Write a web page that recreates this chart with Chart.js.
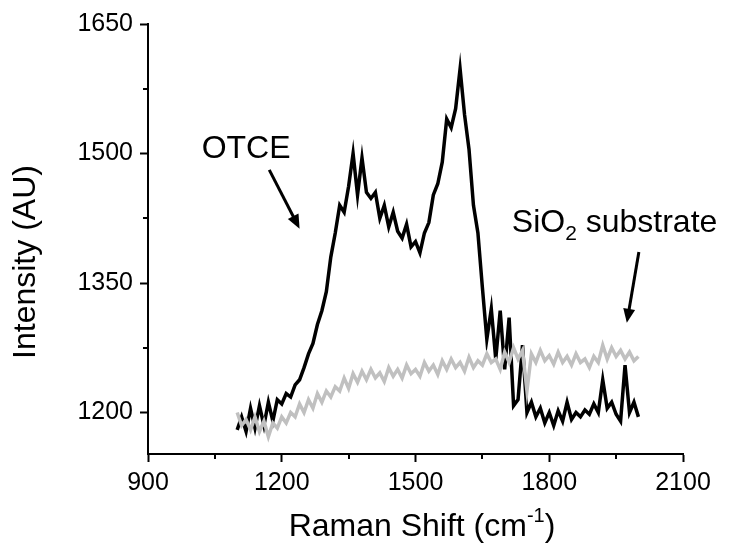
<!DOCTYPE html>
<html>
<head>
<meta charset="utf-8">
<script src="https://cdn.jsdelivr.net/npm/chart.js@4"></script>
<style>
  body { margin: 0; background: #fff; }
</style>
</head>
<body>
<canvas id="chart" width="729" height="555"></canvas>
<script>
const ramanShift = [
    1100, 1110, 1120, 1130, 1140, 1150, 1160, 1170, 1180, 1190,
    1200, 1210, 1220, 1230, 1240, 1250, 1260, 1270, 1280, 1290,
    1300, 1310, 1320, 1330, 1340, 1350, 1360, 1370, 1380, 1390,
    1400, 1410, 1420, 1430, 1440, 1450, 1460, 1470, 1480, 1490,
    1500, 1510, 1520, 1530, 1540, 1550, 1560, 1570, 1580, 1590,
    1600, 1610, 1620, 1630, 1640, 1650, 1660, 1670, 1680, 1690,
    1700, 1710, 1720, 1730, 1740, 1750, 1760, 1770, 1780, 1790,
    1800, 1810, 1820, 1830, 1840, 1850, 1860, 1870, 1880, 1890,
    1900, 1910, 1920, 1930, 1940, 1950, 1960, 1970, 1980, 1990,
    2000
];

const otce = [
    1180, 1195, 1178, 1205, 1182, 1208, 1185, 1212, 1190, 1215,
    1210, 1222, 1218, 1232, 1238, 1252, 1268, 1280, 1302, 1318,
    1340, 1380, 1408, 1440, 1432, 1462, 1500, 1452, 1495, 1455,
    1448, 1455, 1425, 1440, 1415, 1432, 1410, 1402, 1418, 1392,
    1398, 1385, 1408, 1420, 1452, 1465, 1490, 1540, 1530, 1552,
    1598, 1545, 1505, 1440, 1408, 1345, 1285, 1320, 1262, 1318,
    1250, 1310, 1208, 1215, 1278, 1200, 1212, 1195, 1205, 1188,
    1200, 1185, 1202, 1190, 1212, 1192, 1200, 1195, 1203, 1198,
    1210, 1200, 1238, 1205, 1212, 1198, 1190, 1255, 1200, 1212,
    1195
];

const substrate = [
    1200, 1185, 1192, 1180, 1195, 1178, 1190, 1172, 1188, 1182,
    1195, 1188, 1200, 1195, 1210, 1200, 1215, 1205, 1222, 1212,
    1225, 1218, 1230, 1225, 1240, 1228, 1245, 1235, 1248, 1238,
    1250, 1240, 1246, 1236, 1252, 1242, 1250, 1240, 1255, 1245,
    1250, 1242, 1258, 1248, 1255, 1244, 1260, 1250, 1262, 1252,
    1258, 1248, 1264, 1252, 1260, 1255, 1268, 1258, 1262, 1250,
    1270, 1258, 1275, 1262, 1272, 1225, 1268, 1258, 1272, 1260,
    1266, 1256, 1270, 1258, 1265, 1255, 1268, 1258, 1262, 1252,
    1265, 1258, 1278, 1262, 1275, 1265, 1272, 1262, 1270, 1260,
    1265
];

const xTicks = [900, 1200, 1500, 1800, 2100];
const xMinorTicks = [1050, 1350, 1650, 1950];
const yTicks = [1200, 1350, 1500, 1650];
const yMinorTicks = [1275, 1425, 1575];

const FONT = '"Liberation Sans", Arial, sans-serif';

const toPoints = (ys) => ramanShift.map((x, i) => ({x, y: ys[i]}));

function drawArrow(ctx, x0, y0, x1, y1) {
    const ang = Math.atan2(y1 - y0, x1 - x0);
    const head = 14, half = 6;
    ctx.beginPath();
    ctx.moveTo(x0, y0);
    ctx.lineTo(x1 - Math.cos(ang) * head * 0.8, y1 - Math.sin(ang) * head * 0.8);
    ctx.lineWidth = 3;
    ctx.strokeStyle = '#000';
    ctx.stroke();
    ctx.beginPath();
    ctx.moveTo(x1, y1);
    ctx.lineTo(x1 - Math.cos(ang) * head - Math.sin(ang) * half, y1 - Math.sin(ang) * head + Math.cos(ang) * half);
    ctx.lineTo(x1 - Math.cos(ang) * head + Math.sin(ang) * half, y1 - Math.sin(ang) * head - Math.cos(ang) * half);
    ctx.closePath();
    ctx.fillStyle = '#000';
    ctx.fill();
}

const decorations = {
    id: 'decorations',
    afterDraw(chart) {
        const {ctx, scales: {x, y}} = chart;
        ctx.save();

        // minor ticks
        ctx.strokeStyle = '#000';
        ctx.lineWidth = 2;
        xMinorTicks.forEach(v => {
            const px = Math.round(x.getPixelForValue(v));
            ctx.beginPath();
            ctx.moveTo(px, x.top);
            ctx.lineTo(px, x.top + 5);
            ctx.stroke();
        });
        yMinorTicks.forEach(v => {
            const py = Math.round(y.getPixelForValue(v));
            ctx.beginPath();
            ctx.moveTo(y.right - 5, py);
            ctx.lineTo(y.right, py);
            ctx.stroke();
        });

        ctx.fillStyle = '#000';

        // y title
        ctx.save();
        ctx.translate(26, (y.top + y.bottom) / 2 + 23);
        ctx.rotate(-Math.PI / 2);
        ctx.font = `32px ${FONT}`;
        ctx.textAlign = 'center';
        ctx.textBaseline = 'middle';
        ctx.fillText('Intensity (AU)', 0, 0);
        ctx.restore();

        // x title with superscript
        ctx.textBaseline = 'alphabetic';
        ctx.textAlign = 'left';
        const main = 'Raman Shift (cm';
        const sup = '-1';
        const close = ')';
        ctx.font = `32px ${FONT}`;
        const wMain = ctx.measureText(main).width;
        const wClose = ctx.measureText(close).width;
        ctx.font = `20px ${FONT}`;
        const wSup = ctx.measureText(sup).width;
        const total = wMain + wSup + wClose;
        const tx = 422 - total / 2;
        const ty = 536;
        ctx.font = `32px ${FONT}`;
        ctx.fillText(main, tx, ty);
        ctx.font = `20px ${FONT}`;
        ctx.fillText(sup, tx + wMain, ty - 14);
        ctx.font = `32px ${FONT}`;
        ctx.fillText(close, tx + wMain + wSup, ty);

        // OTCE label + arrow
        ctx.font = `32px ${FONT}`;
        ctx.textAlign = 'center';
        ctx.fillText('OTCE', x.getPixelForValue(1120), y.getPixelForValue(1495));
        drawArrow(ctx,
            x.getPixelForValue(1172), y.getPixelForValue(1481),
            x.getPixelForValue(1240), y.getPixelForValue(1413));

        // SiO2 substrate label + arrow
        ctx.textAlign = 'left';
        let sx = x.getPixelForValue(1716);
        const sy = y.getPixelForValue(1409);
        ctx.font = `32px ${FONT}`;
        ctx.fillText('SiO', sx, sy);
        sx += ctx.measureText('SiO').width;
        ctx.font = `21px ${FONT}`;
        ctx.fillText('2', sx, sy + 8);
        sx += ctx.measureText('2').width;
        ctx.font = `32px ${FONT}`;
        ctx.fillText(' substrate', sx, sy);
        drawArrow(ctx,
            x.getPixelForValue(2001), y.getPixelForValue(1386),
            x.getPixelForValue(1974), y.getPixelForValue(1304));

        ctx.restore();
    }
};

new Chart(document.getElementById('chart'), {
    type: 'line',
    data: {
        datasets: [
            {
                label: 'SiO2 substrate',
                data: toPoints(substrate),
                borderColor: '#c0c0c0',
                borderWidth: 3.5,
                pointRadius: 0,
                tension: 0,
            },
            {
                label: 'OTCE',
                data: toPoints(otce),
                borderColor: '#000',
                borderWidth: 3.5,
                pointRadius: 0,
                tension: 0,
            },
        ]
    },
    options: {
        responsive: false,
        animation: false,
        layout: {
            padding: {top: 24, right: 46, left: 0, bottom: 0}
        },
        plugins: {
            legend: {display: false},
            tooltip: {enabled: false},
        },
        scales: {
            x: {
                type: 'linear',
                min: 900,
                max: 2100,
                afterBuildTicks: (scale) => {
                    scale.ticks = xTicks.map(v => ({value: v}));
                },
                afterFit: (scale) => {
                    scale.height = 101;
                },
                border: {display: true, color: '#000', width: 2},
                grid: {
                    display: true,
                    drawOnChartArea: false,
                    drawTicks: true,
                    tickLength: 8,
                    tickWidth: 2,
                    tickColor: '#000',
                },
                ticks: {
                    color: '#000',
                    padding: 6,
                    maxRotation: 0,
                    font: {family: FONT, size: 25},
                    callback: (v) => String(v),
                },
            },
            y: {
                type: 'linear',
                min: 1152,
                max: 1650,
                afterBuildTicks: (scale) => {
                    scale.ticks = yTicks.map(v => ({value: v}));
                },
                afterFit: (scale) => {
                    scale.width = 148;
                },
                border: {display: true, color: '#000', width: 2},
                grid: {
                    display: true,
                    drawOnChartArea: false,
                    drawTicks: true,
                    tickLength: 8,
                    tickWidth: 2,
                    tickColor: '#000',
                },
                ticks: {
                    color: '#000',
                    padding: 7,
                    font: {family: FONT, size: 25},
                    callback: (v) => String(v),
                },
            },
        }
    },
    plugins: [decorations],
});
</script>
</body>
</html>
